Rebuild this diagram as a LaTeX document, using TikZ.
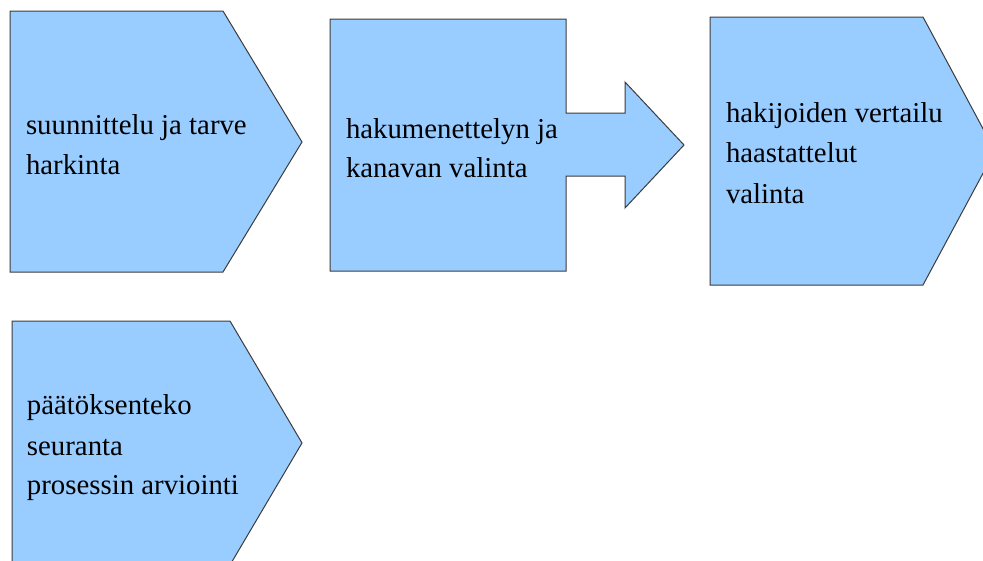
\documentclass[tikz,border=0pt]{standalone}
\usepackage{fontspec}
\setmainfont{Liberation Serif}
\definecolor{boxfill}{HTML}{99CCFF}
\definecolor{boxline}{HTML}{3C3C3C}
\begin{document}
\begin{tikzpicture}[x=1pt,y=-1pt,
  shapebox/.style={fill=boxfill,draw=boxline,line width=1pt,line join=miter},
  lbl/.style={anchor=base west,inner sep=0pt,outer sep=0pt,font=\fontsize{28.8}{40}\selectfont}]
\useasboundingbox (0,0) rectangle (983,560);
\clip (0,0) rectangle (983,560);
% shape 1
\draw[shapebox] (10,11) -- (223,11) -- (302,142) -- (223,272) -- (10,272) -- cycle;
% shape 2
\draw[shapebox] (330,19) -- (566,19) -- (566,113) -- (625,113) -- (625,82) -- (684,145)
  -- (625,208) -- (625,176) -- (566,176) -- (566,271) -- (330,271) -- cycle;
% shape 3
\draw[shapebox] (710,17) -- (923,17) -- (995,151) -- (923,285) -- (710,285) -- cycle;
% shape 4
\draw[shapebox] (12,321) -- (230,321) -- (302,443) -- (230,565) -- (12,565) -- cycle;
% texts
\node[lbl] (t1a) at (26,134) {suunnittelu ja tarve};
\node[lbl] (t1b) at (26,174) {harkinta};
\node[lbl] (t2a) at (346,138) {hakumenettelyn ja};
\node[lbl] (t2b) at (346,177) {kanavan valinta};
\node[lbl] (t3a) at (726,122) {hakijoiden vertailu};
\node[lbl] (t3b) at (726,162) {haastattelut};
\node[lbl] (t3c) at (726,203) {valinta};
\node[lbl] (t4a) at (27,414) {päätöksenteko};
\node[lbl] (t4b) at (27,455) {seuranta};
\node[lbl] (t4c) at (27,494) {prosessin arviointi};
\end{tikzpicture}
\end{document}
